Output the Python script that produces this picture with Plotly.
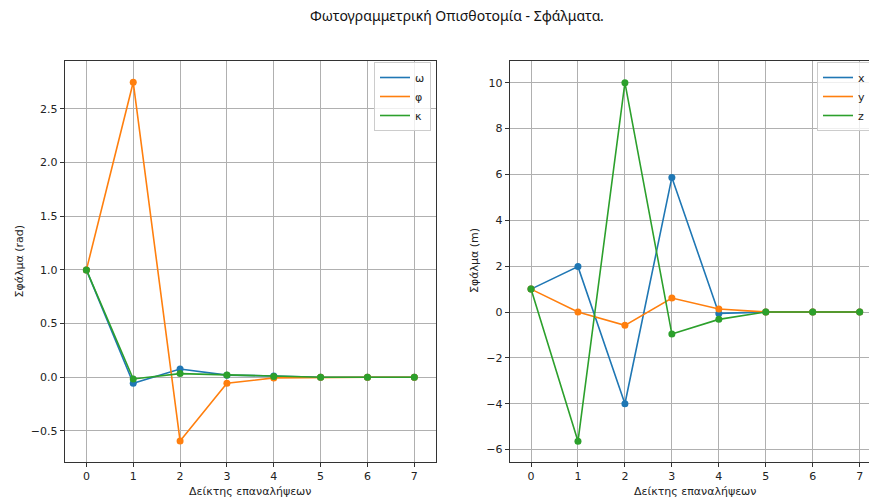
import plotly.graph_objects as go

# Iteration index and per-iteration corrections
iterations = [0, 1, 2, 3, 4, 5, 6, 7]

# Rotation corrections (rad)
omega = [1.0, -0.056, 0.077, 0.020, 0.012, 0.0, 0.0, 0.0]
phi = [1.0, 2.747, -0.593, -0.056, -0.006, 0.0, 0.0, 0.0]
kappa = [1.0, -0.016, 0.034, 0.021, 0.008, 0.0, 0.0, 0.0]

# Projection-centre corrections (m)
dx = [1.0, 1.98, -4.0, 5.87, -0.06, 0.0, 0.0, 0.0]
dy = [1.0, 0.0, -0.58, 0.61, 0.13, 0.0, 0.0, 0.0]
dz = [1.0, -5.64, 10.0, -0.96, -0.32, 0.0, 0.0, 0.0]

angle_names = ["ω", "φ", "κ"]
coord_names = ["x", "y", "z"]
colors = ["#1f77b4", "#ff7f0e", "#2ca02c"]

W, H = 920, 499


def px(x):
    return x / W


def py(y):
    return 1 - y / H


fig = go.Figure()


def add_series(xs, ys, name, color, xa, ya, legend):
    fig.add_trace(go.Scatter(
        x=xs, y=ys, mode="lines", name=name,
        line=dict(color=color, width=1.6),
        xaxis=xa, yaxis=ya, legend=legend,
    ))
    fig.add_trace(go.Scatter(
        x=xs, y=ys, mode="markers", showlegend=False,
        marker=dict(color=color, size=7),
        xaxis=xa, yaxis=ya,
    ))


for name, vals, c in zip(angle_names, [omega, phi, kappa], colors):
    add_series(iterations, vals, name, c, "x", "y", "legend")
for name, vals, c in zip(coord_names, [dx, dy, dz], colors):
    add_series(iterations, vals, name, c, "x2", "y2", "legend2")

font = "DejaVu Sans"
axis_common = dict(
    showgrid=True, gridcolor="#b0b0b0", gridwidth=0.8,
    zeroline=False, showline=True, linecolor="#333333", linewidth=1,
    mirror=True, ticks="outside", ticklen=4, tickwidth=0.8,
    tickcolor="#333333", tickfont=dict(family=font, size=11, color="#222222"),
    automargin=False,
)

ydom = [py(462), py(60.7)]

legend_style = dict(
    xanchor="left", yanchor="top",
    bgcolor="rgba(255,255,255,0.8)", bordercolor="#cccccc", borderwidth=1,
    font=dict(family=font, size=11, color="#222222"),
    tracegroupgap=0, itemwidth=30,
)

fig.update_layout(
    width=W, height=H,
    margin=dict(l=0, r=0, t=0, b=0),
    paper_bgcolor="white", plot_bgcolor="white",
    xaxis=dict(domain=[px(64.7), px(436)], range=[-0.463, 7.463],
               dtick=1, anchor="y", **axis_common),
    yaxis=dict(domain=ydom, range=[-0.789, 2.948], dtick=0.5,
               tickformat=".1f", anchor="x", **axis_common),
    xaxis2=dict(domain=[px(509.7), px(881)], range=[-0.454, 7.454],
                dtick=1, anchor="y2", **axis_common),
    yaxis2=dict(domain=ydom, range=[-6.54, 10.96], dtick=2,
                anchor="x2", **axis_common),
    legend=dict(x=px(374), y=py(62), **legend_style),
    legend2=dict(x=px(817), y=py(62), **legend_style),
    showlegend=True,
)

label_font = dict(family=font, size=11, color="#222222")
annotations = [
    dict(text="Φωτογραμμετρική Οπισθοτομία - Σφάλματα.", x=px(456.7), y=py(15),
         font=dict(family="Noto Sans", size=14, color="#111111")),
    dict(text="Δείκτης επαναλήψεων", x=px(250), y=py(491), font=label_font),
    dict(text="Δείκτης επαναλήψεων", x=px(695), y=py(491), font=label_font),
    dict(text="Σφάλμα (rad)", x=px(18.5), y=py(261), textangle=-90, font=label_font),
    dict(text="Σφάλμα (m)", x=px(474), y=py(261), textangle=-90, font=label_font),
]
for a in annotations:
    fig.add_annotation(xref="paper", yref="paper", showarrow=False,
                       xanchor="center", yanchor="middle", **a)

fig.write_html(
    "out.html",
    post_script="document.body.style.overflow='hidden';"
                "document.documentElement.style.overflow='hidden';",
)
